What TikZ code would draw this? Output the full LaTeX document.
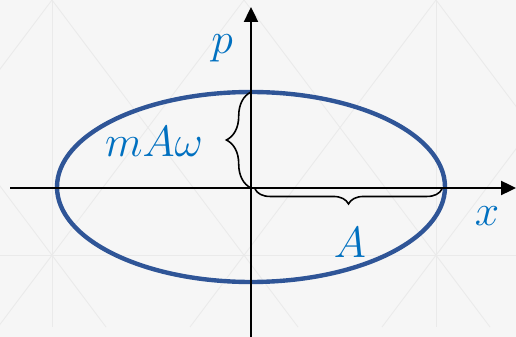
\documentclass[tikz,border=0pt]{standalone}
\usepackage{tikz}
\usetikzlibrary{arrows.meta,decorations.pathreplacing}
\definecolor{slidebg}{HTML}{F6F6F6}
\definecolor{gridline}{HTML}{EAEAEA}
\definecolor{orbitblue}{HTML}{2F5597}
\definecolor{labelblue}{HTML}{0070C0}

\begin{document}
\begin{tikzpicture}[x=0.02cm, y=-0.02cm,
  axis/.style={line width=1.1pt, black, -{Triangle[length=8.5pt,width=8pt]}},
  orbit/.style={draw=orbitblue, line width=2.5pt},
  lbl/.style={text=labelblue, font=\fontsize{24}{28}\selectfont, inner sep=0pt},
  brc/.style={decorate, decoration={brace, amplitude=#1}, line width=0.9pt},
  faint/.style={draw=gridline, line width=0.5pt}]
\fill[slidebg] (0,0) rectangle (516,337);
\useasboundingbox (0,0) rectangle (516,337);
% faint slide pattern
\begin{scope}
\clip (0,0) rectangle (516,327);
\foreach \c in {-332,-140,52,244,436} \draw[faint] (\c,0) -- ++(246,327);
\foreach \d in {52,244,436,628,820} \draw[faint] (\d,0) -- ++(-246,327);
\foreach \v in {52,436} \draw[faint] (\v,0) -- (\v,327);
\draw[faint] (0,255) -- (516,255);
\end{scope}
% axes
\coordinate (O) at (251,188);
\coordinate (xs) at (10,188);
\coordinate (xe) at (516,188);
\coordinate (ps) at (251,337);
\coordinate (pe) at (251,7);
\draw[orbit] (251,187) ellipse [x radius=194, y radius=95];
\draw[axis] (xs) -- (xe);
\draw[axis] (ps) -- (pe);
% braces
\coordinate (ptop) at (251,92);
\coordinate (hs) at (255,189);
\coordinate (he) at (442,189);
\draw[brc=14pt] (O) -- (ptop);
\draw[brc=8.5pt] (he) -- (hs);
% labels
\node[lbl] (plabel) at (222,48) {$p$};
\node[lbl] (xlabel) at (487,216) {$x$};
\node[lbl] (mlabel) at (154,142) {$mA\omega$};
\node[lbl] (alabel) at (350,243) {$A$};
\end{tikzpicture}
\end{document}
